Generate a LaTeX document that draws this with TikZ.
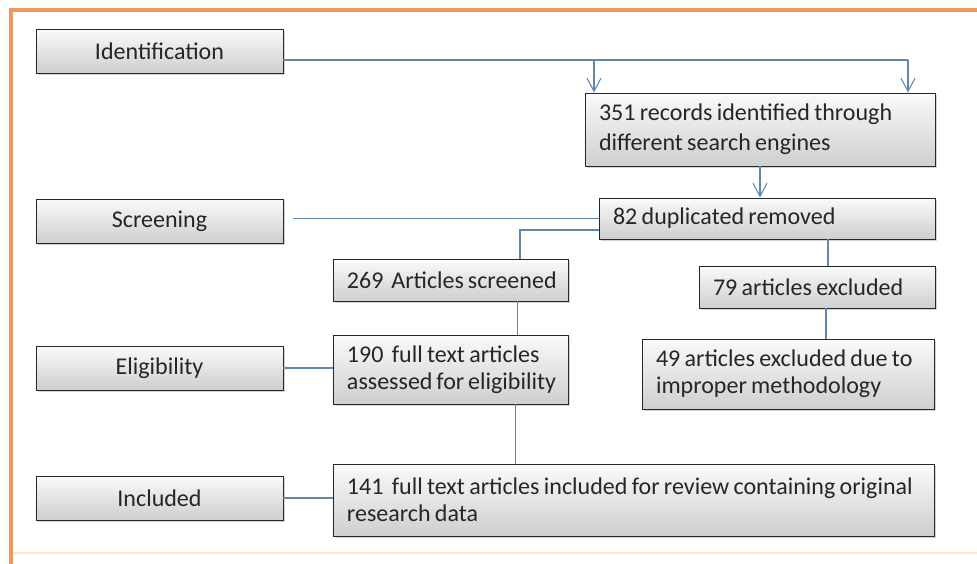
\documentclass[tikz,border=0pt]{standalone}
\usepackage{fontspec}
\setmainfont{Carlito}
\usepackage{tikz}
\usetikzlibrary{calc,positioning,arrows.meta,shadows}
\definecolor{framecol}{RGB}{240,152,92}
\definecolor{linkcol}{RGB}{96,136,172}
\definecolor{boxline}{RGB}{40,40,40}
\tikzstyle{stage}  = [rectangle, draw=boxline, thick, top color=gray!4, bottom color=gray!38, drop shadow={shadow xshift=1.5pt, shadow yshift=-1.5pt, opacity=0.35}, minimum width=7.41cm, minimum height=1.32cm, align=center, text=black!85, inner sep=0pt]
\tikzstyle{record} = [stage, align=left, inner xsep=0.42cm, inner ysep=0pt, execute at begin node={\spaceskip=0.18em plus 0.05em minus 0.02em\hyphenpenalty=10000}]
\tikzstyle{link}   = [draw=linkcol, line width=0.9pt]
\tikzstyle{arrow}  = [link, -{Straight Barb[length=4mm,width=4.2mm]}]

\begin{document}
\begin{tikzpicture}[x=0.03cm, y=-0.03cm, font=\fontsize{20.5}{23}\selectfont]
	\useasboundingbox (0,0) rectangle (977,564);

	% frame
	\draw[framecol!25, line width=1.5pt] (10,553) -- (977,553);
	\draw[framecol, line width=3.5pt] (11,564) -- (11,10) -- (977,10);

	% stages on the left
	\node[stage] (ident)  at (159.5,51)  {Identification};
	\node[stage] (screen) at (159.5,221) {Screening};
	\node[stage] (elig)   at (159.5,368) {Eligibility};
	\node[stage] (incl)   at (159.5,498) {Included};

	% records
	\node[record, minimum width=10.5cm, minimum height=2.19cm, text width=9.66cm, font=\fontsize{20.5}{25.5}\selectfont] (rec) at (760,129.5)
		{351 records identified through\\different search engines};
	\node[record, minimum width=10.08cm, minimum height=1.23cm, text width=9.24cm] (dup) at (767,218.5)
		{82 duplicated removed};
	\node[record, minimum width=7.05cm, minimum height=1.26cm, text width=6.21cm] (scr) at (450.5,280)
		{269\,~Articles~screened};
	\node[record, minimum width=7.08cm, minimum height=1.26cm, text width=6.24cm] (exc) at (817,287)
		{79 articles excluded};
	\node[record, minimum width=7.05cm, minimum height=2.07cm, text width=6.21cm] (full) at (450.5,369.5)
		{190\,~full~text~articles\\assessed~for~eligibility};
	\node[record, minimum width=8.76cm, minimum height=2.1cm, text width=7.92cm] (meth) at (788,374)
		{49 articles excluded due to\\improper methodology};
	\node[record, minimum width=18.03cm, minimum height=2.16cm, text width=17.19cm] (inc) at (633.5,500)
		{141\, full text articles included for review containing original\\research data};

	% connectors
	\coordinate (splitA) at (594,60);
	\coordinate (splitB) at (908,60);
	\coordinate (bend) at (520,230);
	\draw[link] (ident.east |- splitB) -- (splitB);
	\draw[arrow] (splitA) -- (splitA |- rec.north);
	\draw[arrow] (splitB) -- (splitB |- rec.north);
	\draw[arrow] (rec.south) -- (rec.south |- dup.north);
	\draw[link] ([xshift=3mm]screen.east |- dup.west) -- (dup.west);
	\draw[link] (dup.west |- bend) -- (bend) -- (bend |- scr.north);
	\draw[link] ([xshift=3.3mm]exc.north |- dup.south) -- ([xshift=3.3mm]exc.north);
	\draw[link] ([xshift=2cm]scr.south) -- ([xshift=2cm]full.north);
	\draw[link] ([xshift=2.7mm]exc.south) -- ([xshift=2.7mm]exc.south |- meth.north);
	\draw[link] ([xshift=1.95cm]full.south) -- ([xshift=1.95cm]full.south |- inc.north);
	\draw[link] (elig.east) -- (elig.east -| full.west);
	\draw[link] (incl.east) -- (incl.east -| inc.west);
\end{tikzpicture}
\end{document}
